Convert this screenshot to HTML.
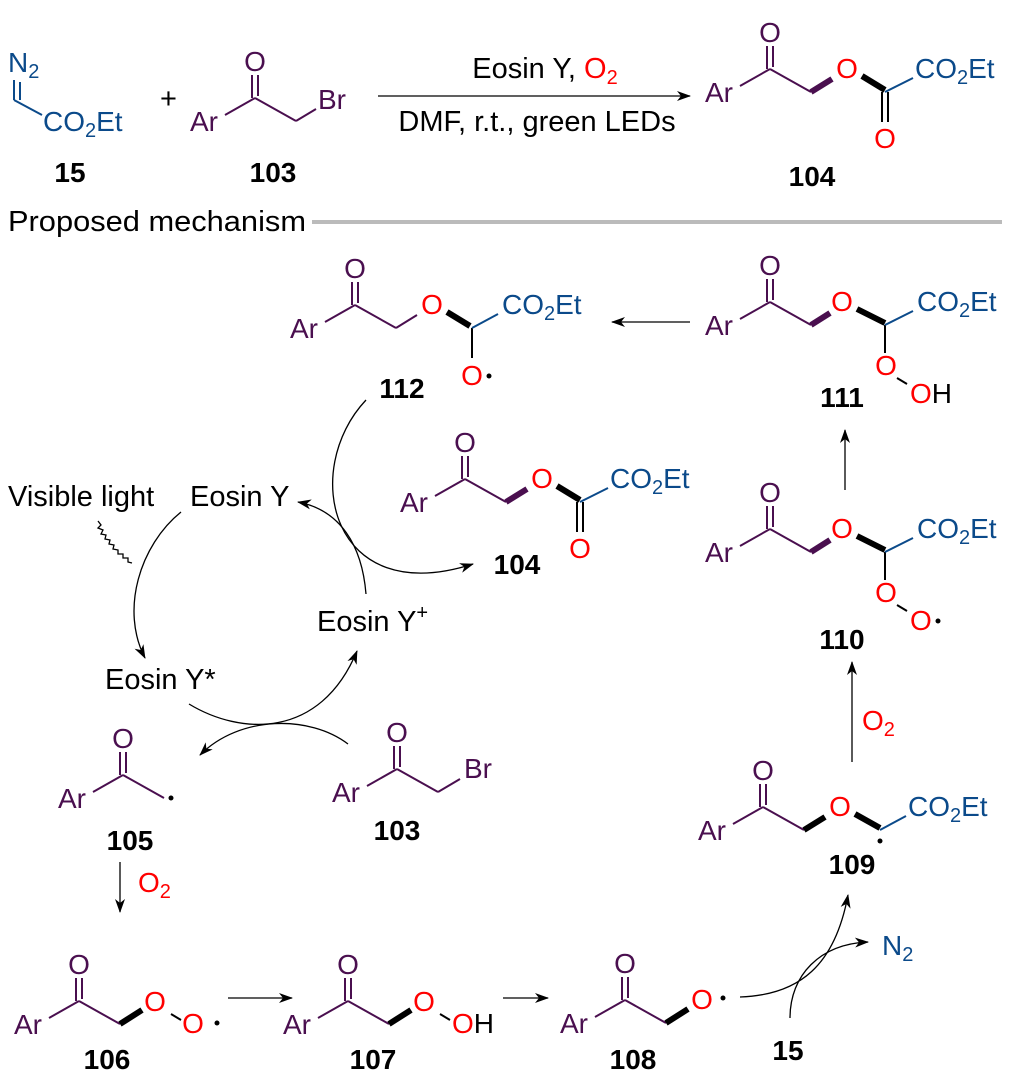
<!DOCTYPE html>
<html><head><meta charset="utf-8"><style>
html,body{margin:0;padding:0;background:#fff;}
svg{display:block;font-family:"Liberation Sans",Arial,sans-serif;}
.p{fill:#4a0f4f;font-size:28px;}
.b{fill:#0b4a8a;font-size:28px;}
.r{fill:#ff0000;font-size:28px;}
.k{fill:#000;font-size:29px;}
.lb{fill:#000;font-size:28px;font-weight:bold;text-anchor:middle;}
.pl{stroke:#4a0f4f;stroke-width:2;fill:none;}
.bl{stroke:#0b4a8a;stroke-width:2;fill:none;}
.kl{stroke:#000;stroke-width:2;fill:none;}
.w{stroke:#000;stroke-width:6;fill:none;}
.wp{stroke:#4a0f4f;stroke-width:6;fill:none;}
.ar{stroke:#000;stroke-width:1.3;fill:none;}
</style></head><body>
<svg width="1012" height="1087" viewBox="0 0 1012 1087" xmlns="http://www.w3.org/2000/svg">
<defs>
<marker id="ah" markerWidth="14" markerHeight="10" refX="13" refY="5" orient="auto" markerUnits="userSpaceOnUse">
<path d="M0,0 L14,5 L0,10 L4,5 Z" fill="#000"/></marker>
<g id="arco">
<line class="pl" x1="35" y1="-16" x2="65" y2="-33"/>
<line class="pl" x1="62" y1="-33" x2="62" y2="-56"/>
<line class="pl" x1="68" y1="-35" x2="68" y2="-56"/>
<line class="pl" x1="65" y1="-33" x2="106" y2="-10"/>
</g>
</defs>

<!-- top reaction -->
<text class="b" x="8" y="72">N<tspan font-size="20" dy="6">2</tspan></text>
<line class="bl" x1="14" y1="80" x2="14" y2="100"/>
<line class="bl" x1="20" y1="82" x2="20" y2="100"/>
<line class="bl" x1="14" y1="100" x2="42" y2="115"/>
<text class="b" x="43" y="131">CO<tspan font-size="20" dy="6">2</tspan><tspan dy="-6">Et</tspan></text>
<text class="lb" x="70" y="182">15</text>
<text class="k" x="160" y="108">+</text>

<g transform="translate(190,131)"><use href="#arco"/>
<text class="p" x="0" y="0">Ar</text><text class="p" x="65" y="-60" text-anchor="middle">O</text>
<line class="pl" x1="106" y1="-10" x2="126" y2="-22"/><text class="p" x="128" y="-22">Br</text></g>
<text class="lb" x="273" y="182">103</text>

<line class="ar" x1="378" y1="96" x2="690" y2="96" marker-end="url(#ah)"/>
<text class="k" x="545" y="78" text-anchor="middle">Eosin Y, <tspan fill="#f00">O<tspan font-size="20" dy="6">2</tspan></tspan></text>
<text class="k" x="537" y="131" text-anchor="middle">DMF, r.t., green LEDs</text>

<g transform="translate(705,102)"><use href="#arco"/>
<text class="p" x="0" y="0">Ar</text><text class="p" x="65" y="-60" text-anchor="middle">O</text>
<line class="wp" x1="106" y1="-10" x2="127" y2="-23"/>
<text class="r" x="142" y="-24" text-anchor="middle">O</text>
<line class="w" x1="157" y1="-26" x2="180" y2="-12"/>
<line class="kl" x1="177" y1="-10" x2="177" y2="20"/><line class="kl" x1="183" y1="-10" x2="183" y2="20"/>
<text class="r" x="180" y="46" text-anchor="middle">O</text>
<line class="bl" x1="180" y1="-10" x2="208" y2="-24"/>
<text class="b" x="210" y="-24">CO<tspan font-size="20" dy="6">2</tspan><tspan dy="-6">Et</tspan></text></g>
<text class="lb" x="812" y="186">104</text>

<text class="k" x="8" y="231" textLength="298" lengthAdjust="spacingAndGlyphs">Proposed mechanism</text>
<line x1="312" y1="222" x2="1002" y2="222" stroke="#bbb" stroke-width="4"/>

<!-- 112 -->
<g transform="translate(290,338)"><use href="#arco"/>
<text class="p" x="0" y="0">Ar</text><text class="p" x="65" y="-60" text-anchor="middle">O</text>
<line class="pl" x1="106" y1="-10" x2="127" y2="-23"/>
<text class="r" x="142" y="-24" text-anchor="middle">O</text>
<line class="w" x1="157" y1="-26" x2="180" y2="-12"/>
<line class="kl" x1="182" y1="-10" x2="182" y2="20"/>
<text class="r" x="182" y="47" text-anchor="middle">O</text><circle cx="199" cy="38" r="2.5" fill="#000"/>
<line class="bl" x1="182" y1="-10" x2="208" y2="-24"/>
<text class="b" x="212" y="-24">CO<tspan font-size="20" dy="6">2</tspan><tspan dy="-6">Et</tspan></text></g>
<text class="lb" x="402" y="398">112</text>

<line class="ar" x1="690" y1="322" x2="612" y2="322" marker-end="url(#ah)"/>

<!-- 111 -->
<g transform="translate(705,335)"><use href="#arco"/>
<text class="p" x="0" y="0">Ar</text><text class="p" x="65" y="-60" text-anchor="middle">O</text>
<line class="wp" x1="106" y1="-10" x2="125" y2="-22"/>
<text class="r" x="137" y="-24" text-anchor="middle">O</text>
<line class="w" x1="152" y1="-26" x2="180" y2="-12"/>
<line class="kl" x1="180" y1="-10" x2="180" y2="18"/>
<text class="r" x="181" y="40" text-anchor="middle">O</text>
<line class="kl" x1="192" y1="43" x2="202" y2="49"/>
<text class="r" x="205" y="68">O<tspan fill="#000">H</tspan></text>
<line class="bl" x1="180" y1="-10" x2="208" y2="-24"/>
<text class="b" x="212" y="-24">CO<tspan font-size="20" dy="6">2</tspan><tspan dy="-6">Et</tspan></text></g>
<text class="lb" x="842" y="407">111</text>

<line class="ar" x1="845" y1="490" x2="845" y2="430" marker-end="url(#ah)"/>

<!-- 104 mid -->
<g transform="translate(400,512)"><use href="#arco"/>
<text class="p" x="0" y="0">Ar</text><text class="p" x="65" y="-60" text-anchor="middle">O</text>
<line class="wp" x1="106" y1="-10" x2="127" y2="-23"/>
<text class="r" x="142" y="-24" text-anchor="middle">O</text>
<line class="w" x1="157" y1="-26" x2="180" y2="-12"/>
<line class="kl" x1="177" y1="-10" x2="177" y2="20"/><line class="kl" x1="183" y1="-10" x2="183" y2="20"/>
<text class="r" x="180" y="46" text-anchor="middle">O</text>
<line class="bl" x1="180" y1="-10" x2="208" y2="-24"/>
<text class="b" x="210" y="-24">CO<tspan font-size="20" dy="6">2</tspan><tspan dy="-6">Et</tspan></text></g>
<text class="lb" x="517" y="574">104</text>

<!-- 110 -->
<g transform="translate(705,562)"><use href="#arco"/>
<text class="p" x="0" y="0">Ar</text><text class="p" x="65" y="-60" text-anchor="middle">O</text>
<line class="wp" x1="106" y1="-10" x2="125" y2="-22"/>
<text class="r" x="137" y="-24" text-anchor="middle">O</text>
<line class="w" x1="152" y1="-26" x2="180" y2="-12"/>
<line class="kl" x1="180" y1="-10" x2="180" y2="18"/>
<text class="r" x="181" y="40" text-anchor="middle">O</text>
<line class="kl" x1="192" y1="43" x2="202" y2="49"/>
<text class="r" x="205" y="68">O</text><circle cx="233" cy="59" r="2.5" fill="#000"/>
<line class="bl" x1="180" y1="-10" x2="208" y2="-24"/>
<text class="b" x="212" y="-24">CO<tspan font-size="20" dy="6">2</tspan><tspan dy="-6">Et</tspan></text></g>
<text class="lb" x="842" y="649">110</text>

<line class="ar" x1="852" y1="762" x2="852" y2="662" marker-end="url(#ah)"/>
<text class="r" x="862" y="730">O<tspan font-size="20" dy="6">2</tspan></text>

<!-- 109 -->
<g transform="translate(698,840)"><use href="#arco"/>
<text class="p" x="0" y="0">Ar</text><text class="p" x="65" y="-60" text-anchor="middle">O</text>
<line class="w" x1="106" y1="-10" x2="127" y2="-23"/>
<text class="r" x="142" y="-24" text-anchor="middle">O</text>
<line class="w" x1="157" y1="-26" x2="182" y2="-12"/>
<circle cx="182" cy="1" r="2.5" fill="#000"/>
<line class="bl" x1="182" y1="-10" x2="208" y2="-24"/>
<text class="b" x="210" y="-24">CO<tspan font-size="20" dy="6">2</tspan><tspan dy="-6">Et</tspan></text></g>
<text class="lb" x="852" y="874">109</text>

<!-- cycle -->
<text class="k" x="8" y="506">Visible light</text>
<text class="k" x="190" y="506">Eosin Y</text>
<text class="k" x="105" y="689">Eosin Y*</text>
<text class="k" x="317" y="631">Eosin Y<tspan font-size="20" dy="-12">+</tspan></text>
<path class="ar" d="M98,521 l3,4 l-3,3 l5,2 l-2,4 l5,1 l-1,4 l5,1 l-1,4 l5,1 l-1,4 l5,1 l0,4 l5,0 l0,4 l5,0 l0,4 l4,1"/>
<path class="ar" d="M181,512 C140,545 120,610 145,658" marker-end="url(#ah)"/>
<path class="ar" d="M366,400 C300,470 330,610 473,564" marker-end="url(#ah)"/>
<path class="ar" d="M366,594 C362,545 340,510 298,502" marker-end="url(#ah)"/>
<path class="ar" d="M189,704 C240,735 320,740 357,651" marker-end="url(#ah)"/>
<path class="ar" d="M348,744 C310,715 240,715 200,755" marker-end="url(#ah)"/>

<!-- 103 mid -->
<g transform="translate(332,802)"><use href="#arco"/>
<text class="p" x="0" y="0">Ar</text><text class="p" x="65" y="-60" text-anchor="middle">O</text>
<line class="pl" x1="106" y1="-10" x2="128" y2="-23"/><text class="p" x="132" y="-24">Br</text></g>
<text class="lb" x="397" y="840">103</text>

<!-- 105 -->
<g transform="translate(58,808)"><use href="#arco"/>
<text class="p" x="0" y="0">Ar</text><text class="p" x="65" y="-60" text-anchor="middle">O</text></g>
<circle cx="171" cy="798" r="2.5" fill="#000"/>
<text class="lb" x="130" y="850">105</text>

<line class="ar" x1="120" y1="862" x2="120" y2="912" marker-end="url(#ah)"/>
<text class="r" x="138" y="892">O<tspan font-size="20" dy="6">2</tspan></text>

<!-- 106 -->
<g transform="translate(14,1034)"><use href="#arco"/>
<text class="p" x="0" y="0">Ar</text><text class="p" x="65" y="-60" text-anchor="middle">O</text>
<line class="w" x1="106" y1="-10" x2="128" y2="-24"/>
<text class="r" x="141" y="-23" text-anchor="middle">O</text>
<line class="kl" x1="157" y1="-20" x2="167" y2="-14"/>
<text class="r" x="179" y="-1" text-anchor="middle">O</text><circle cx="203" cy="-11" r="2.5" fill="#000"/></g>
<text class="lb" x="107" y="1069">106</text>

<line class="ar" x1="228" y1="998" x2="292" y2="998" marker-end="url(#ah)"/>

<!-- 107 -->
<g transform="translate(283,1034)"><use href="#arco"/>
<text class="p" x="0" y="0">Ar</text><text class="p" x="65" y="-60" text-anchor="middle">O</text>
<line class="w" x1="106" y1="-10" x2="128" y2="-24"/>
<text class="r" x="141" y="-23" text-anchor="middle">O</text>
<line class="kl" x1="157" y1="-20" x2="167" y2="-14"/>
<text class="r" x="169" y="-1">O<tspan fill="#000">H</tspan></text></g>
<text class="lb" x="373" y="1069">107</text>

<line class="ar" x1="503" y1="998" x2="548" y2="998" marker-end="url(#ah)"/>

<!-- 108 -->
<g transform="translate(560,1033)"><use href="#arco"/>
<text class="p" x="0" y="0">Ar</text><text class="p" x="65" y="-60" text-anchor="middle">O</text>
<line class="w" x1="106" y1="-10" x2="128" y2="-24"/>
<text class="r" x="142" y="-24" text-anchor="middle">O</text><circle cx="163" cy="-35" r="2.5" fill="#000"/></g>
<text class="lb" x="633" y="1069">108</text>

<path class="ar" d="M740,997 C800,995 835,965 848,895" marker-end="url(#ah)"/>
<path class="ar" d="M790,1018 C790,975 820,944 868,942" marker-end="url(#ah)"/>
<text class="b" x="882" y="955">N<tspan font-size="20" dy="6">2</tspan></text>
<text class="lb" x="788" y="1060">15</text>
</svg>
</body></html>
